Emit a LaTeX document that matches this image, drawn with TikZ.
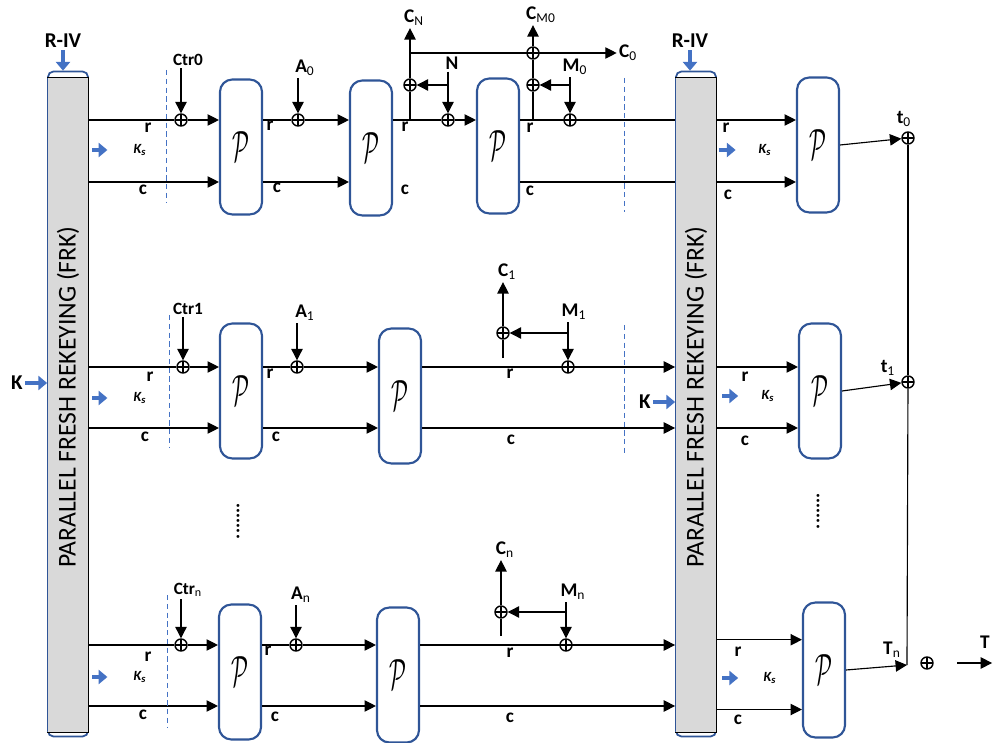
\documentclass[tikz,border=0pt]{standalone}
\usepackage{fontspec}
\setmainfont{Carlito}
\usetikzlibrary{arrows.meta, positioning}
\definecolor{boxblue}{RGB}{47,85,151}
\definecolor{keyblue}{RGB}{68,114,196}
\definecolor{frkgray}{RGB}{217,217,217}
\newcommand{\pglyph}{\scalebox{0.5}[1]{$\mathcal{P}$}}

\begin{document}
\begin{tikzpicture}[
    x=0.02cm, y=-0.02cm,
    line width=0.65pt,
    frk/.style={rectangle, draw=boxblue, fill=white, rounded corners=3pt, line width=1pt, minimum width=0.8cm, minimum height=13.3cm},
    frktext/.style={rotate=90, font=\fontsize{14.6}{15}\selectfont},
    perm/.style={rectangle, draw=boxblue, rounded corners=7pt, line width=1.2pt, minimum width=0.84cm, minimum height=2.7cm, font=\fontsize{27}{27}\selectfont},
    xor/.style={circle, draw, inner sep=0pt, minimum size=0.24cm, line width=0.8pt,
        path picture={\draw[line width=0.8pt] (path picture bounding box.north) -- (path picture bounding box.south)
            (path picture bounding box.west) -- (path picture bounding box.east);}},
    big/.style={font=\bfseries\fontsize{12}{13}\selectfont, inner sep=1pt},
    lbl/.style={font=\bfseries\fontsize{11}{12}\selectfont, inner sep=1pt},
    small/.style={font=\bfseries\fontsize{9.8}{10}\selectfont, inner sep=1pt},
    wire/.style={font=\bfseries\fontsize{11}{12}\selectfont, inner sep=0pt},
    ks/.style={font=\bfseries\itshape\fontsize{8}{8}\selectfont, inner sep=0pt},
    dots/.style={rotate=90, font=\bfseries\fontsize{11}{11}\selectfont, inner sep=0pt},
    arrow/.style={-{Triangle[length=6.5pt, width=6.5pt]}},
    keyarrow/.style={draw=keyblue, line width=2.3pt, -{Triangle[length=5pt, width=8pt]}},
    cutline/.style={draw=keyblue, densely dashed, line width=0.5pt}
]
\useasboundingbox (0,0) rectangle (995,743);

% rail heights
\coordinate (rr0) at (0,120);
\coordinate (cc0) at (0,182);
\coordinate (rr1) at (0,367);
\coordinate (cc1) at (0,428);
\coordinate (rrn) at (0,645);
\coordinate (ccn) at (0,706);

% rekeying blocks
\node[frk] (frkL) at (68,404) {};
\fill[frkgray] ([shift={(0.5pt,-0.14cm)}]frkL.north west) rectangle ([yshift=0.1cm]frkL.south east);
\draw ([yshift=-0.14cm]frkL.north west) -- ([yshift=-0.14cm]frkL.north east) -- ([yshift=0.1cm]frkL.south east) -- ([yshift=0.1cm]frkL.south west);
\node[frktext] (frkLt) at (68,397) {PARALLEL FRESH REKEYING (FRK)};

\node[frk] (frkR) at (696,404) {};
\fill[frkgray] ([shift={(0.5pt,-0.14cm)}]frkR.north west) rectangle ([yshift=0.1cm]frkR.south east);
\draw ([yshift=-0.14cm]frkR.north west) -- ([yshift=-0.14cm]frkR.north east) -- ([yshift=0.1cm]frkR.south east) -- ([yshift=0.1cm]frkR.south west);
\node[frktext] (frkRt) at (696,397) {PARALLEL FRESH REKEYING (FRK)};

\node[big] (rivL) at (63,41) {R-IV};
\node[big] (rivR) at (690,41) {R-IV};
\node[big] (kL) at (17,383) {K};
\node[big] (kR) at (645,402) {K};
\draw[keyarrow] (rivL.south) -- (rivL.south |- frkL.north);
\draw[keyarrow] (rivR.south) -- (rivR.south |- frkR.north);
\draw[keyarrow] (kL.east) -- (kL -| frkL.west);
\draw[keyarrow] (kR.east) -- (kR -| frkR.west);

% ---- first block
\node[xor] (x0ctr) at (181,120) {};
\node[small] (ctr0) at (188,60) {Ctr0};
\node[perm] (pa0) at (241,147) {\pglyph};
\node[xor] (x0a) at (298,120) {};
\node[lbl] (a0) at (305,68) {A\textsubscript{\mdseries 0}};
\node[perm] (pb0) at (371,148) {\pglyph};
\node[xor] (x0cn) at (410,85) {};
\node[lbl] (cn) at (414,18) {C\textsubscript{\mdseries N}};
\node[xor] (x0n) at (448,120) {};
\node[lbl] (n0) at (452,63) {N};
\node[perm] (pc0) at (498,146) {\pglyph};
\node[xor] (x0cm) at (533,53) {};
\node[xor] (x0m) at (533,85) {};
\node[lbl] (cm0) at (541,15) {C\textsubscript{\mdseries M0}};
\node[lbl] (c0out) at (628,53) {C\textsubscript{\mdseries 0}};
\node[xor] (x0mm) at (570,120) {};
\node[lbl] (m0) at (575,67) {M\textsubscript{\mdseries 0}};
\node[perm] (pt0) at (818,145) {\pglyph};
\node[xor] (xt0) at (908,138) {};
\node[lbl] (t0) at (904,119) {t\textsubscript{\mdseries 0}};

\node[wire] (r0a) at (148,128) {r};
\node[wire] (c0a) at (143,190) {c};
\node[ks] (ks0a) at (140,150) {K\textsubscript{s}};
\node[wire] (r0b) at (270,126) {r};
\node[wire] (c0b) at (277,188) {c};
\node[wire] (r0c) at (405,127) {r};
\node[wire] (c0c) at (405,190) {c};
\node[wire] (r0d) at (530,128) {r};
\node[wire] (c0d) at (530,191) {c};
\node[wire] (r0e) at (726,128) {r};
\node[wire] (c0e) at (728,195) {c};
\node[ks] (ks0e) at (765,150) {K\textsubscript{s}};

\draw (frkL.east |- rr0) -- (x0ctr);
\draw[arrow] (x0ctr) -- (pa0.west |- rr0);
\draw[arrow] (x0ctr |- ctr0.south) -- (x0ctr);
\draw[arrow] (frkL.east |- cc0) -- (pa0.west |- cc0);
\draw (pa0.east |- rr0) -- (x0a);
\draw[arrow] (x0a) -- (pb0.west |- rr0);
\draw[arrow] (x0a |- a0.south) -- (x0a);
\draw[arrow] (pa0.east |- cc0) -- (pb0.west |- cc0);
\draw (pb0.east |- rr0) -- (x0n);
\draw[arrow] (x0n) -- (pc0.west |- rr0);
\draw (x0cn |- rr0) -- (x0cn);
\draw[arrow] (x0cn) -- (x0cn |- cn.south);
\draw[arrow] (x0n |- n0.south) -- (x0n);
\draw[arrow] (x0n |- x0cn) -- (x0cn);
\draw[arrow] (x0cn |- x0cm) -- (c0out.west);
\draw (pc0.east |- rr0) -- (frkR.west |- rr0);
\draw (x0m |- rr0) -- (x0m);
\draw (x0m) -- (x0cm);
\draw[arrow] (x0cm) -- (x0cm |- cm0.south);
\draw[arrow] (x0mm |- m0.south) -- (x0mm);
\draw[arrow] (x0mm |- x0m) -- (x0m);
\draw (pc0.east |- cc0) -- (frkR.west |- cc0);
\draw[arrow] (frkR.east |- rr0) -- (pt0.west |- rr0);
\draw[arrow] (frkR.east |- cc0) -- (pt0.west |- cc0);
\draw[arrow] (pt0.east) -- (xt0);
\draw[keyarrow] ([xshift=2pt]frkL.east |- ks0a) -- ++(15,0);
\draw[keyarrow] ([xshift=1pt]frkR.east |- ks0e) -- ++(17,0);
\draw[cutline] (166,70) -- (166,202);
\draw[cutline] (624,78) -- (624,212);

% ---- second block
\node[xor] (x1ctr) at (183,367) {};
\node[small] (ctr1) at (188,309) {Ctr1};
\node[perm] (pa1) at (241,391) {\pglyph};
\node[xor] (x1a) at (297,367) {};
\node[lbl] (a1) at (305,313) {A\textsubscript{\mdseries 1}};
\node[perm] (pb1) at (400,396) {\pglyph};
\node[xor] (x1c) at (503,333) {};
\node[lbl] (c1out) at (507,272) {C\textsubscript{\mdseries 1}};
\node[xor] (x1m) at (568,367) {};
\node[lbl] (m1) at (574,312) {M\textsubscript{\mdseries 1}};
\node[perm] (pt1) at (820,391) {\pglyph};
\node[xor] (xt1) at (908,382) {};
\node[lbl] (t1) at (888,368) {t\textsubscript{\mdseries 1}};

\node[wire] (r1a) at (150,377) {r};
\node[wire] (c1a) at (145,437) {c};
\node[ks] (ks1a) at (140,398) {K\textsubscript{s}};
\node[wire] (r1b) at (270,374) {r};
\node[wire] (c1b) at (276,437) {c};
\node[wire] (r1c) at (510,374) {r};
\node[wire] (c1c) at (511,440) {c};
\node[wire] (r1e) at (745,377) {r};
\node[wire] (c1e) at (745,441) {c};
\node[ks] (ks1e) at (768,396) {K\textsubscript{s}};

\draw (frkL.east |- rr1) -- (x1ctr);
\draw[arrow] (x1ctr) -- (pa1.west |- rr1);
\draw[arrow] (x1ctr |- ctr1.south) -- (x1ctr);
\draw[arrow] (frkL.east |- cc1) -- (pa1.west |- cc1);
\draw (pa1.east |- rr1) -- (x1a);
\draw[arrow] (x1a) -- (pb1.west |- rr1);
\draw[arrow] (x1a |- a1.south) -- (x1a);
\draw[arrow] (pa1.east |- cc1) -- (pb1.west |- cc1);
\draw[arrow] (pb1.east |- rr1) -- (frkR.west |- rr1);
\draw[arrow] (x1m |- m1.south) -- (x1m);
\draw[arrow] (x1m |- x1c) -- (x1c);
\draw ([yshift=5pt]x1c |- rr1) -- (x1c);
\draw[arrow] (x1c) -- (x1c |- c1out.south);
\draw[arrow] (pb1.east |- cc1) -- (frkR.west |- cc1);
\draw[arrow] (frkR.east |- rr1) -- (pt1.west |- rr1);
\draw[arrow] (frkR.east |- cc1) -- (pt1.west |- cc1);
\draw[arrow] (pt1.east) -- (xt1);
\draw (xt0) -- (xt1);
\draw[keyarrow] ([xshift=2pt]frkL.east |- ks1a) -- ++(15,0);
\draw[keyarrow] ([xshift=3pt]frkR.east |- ks1e) -- ++(16,0);
\draw[cutline] (169,315) -- (169,448);
\draw[cutline] (624,325) -- (624,455);

\node[dots] (dotsL) at (238,521) {.......};
\node[dots] (dotsR) at (818,511) {.......};

% ---- last block
\node[xor] (xnctr) at (181,645) {};
\node[small] (ctrn) at (188,590) {Ctr\textsubscript{\mdseries n}};
\node[perm] (pan) at (240,672) {\pglyph};
\node[xor] (xna) at (296,645) {};
\node[lbl] (an) at (301,595) {A\textsubscript{\mdseries n}};
\node[perm] (pbn) at (398,675) {\pglyph};
\node[xor] (xnc) at (501,612) {};
\node[lbl] (cnout) at (505,550) {C\textsubscript{\mdseries n}};
\node[xor] (xnm) at (566,645) {};
\node[lbl] (mn) at (573,592) {M\textsubscript{\mdseries n}};
\node[perm] (ptn) at (824,670) {\pglyph};
\coordinate (tnend) at (907,665);
\node[lbl] (tn) at (892,650) {T\textsubscript{\mdseries n}};
\node[xor] (xfin) at (927,663) {};
\coordinate (tstart) at (957,663);
\node[lbl] (tout) at (985,642) {T};

\node[wire] (rna) at (148,657) {r};
\node[wire] (cna) at (143,715) {c};
\node[ks] (ksna) at (140,677) {K\textsubscript{s}};
\node[wire] (rnb) at (268,651) {r};
\node[wire] (cnb) at (275,717) {c};
\node[wire] (rnc) at (510,653) {r};
\node[wire] (cnc) at (510,718) {c};
\node[wire] (rne) at (738,652) {r};
\node[wire] (cne) at (738,720) {c};
\node[ks] (ksne) at (770,678) {K\textsubscript{s}};

\draw (frkL.east |- rrn) -- (xnctr);
\draw[arrow] (xnctr) -- (pan.west |- rrn);
\draw[arrow] (xnctr |- ctrn.south) -- (xnctr);
\draw[arrow] (frkL.east |- ccn) -- (pan.west |- ccn);
\draw (pan.east |- rrn) -- (xna);
\draw[arrow] (xna) -- (pbn.west |- rrn);
\draw[arrow] (xna |- an.south) -- (xna);
\draw[arrow] (pan.east |- ccn) -- (pbn.west |- ccn);
\draw[arrow] (pbn.east |- rrn) -- (frkR.west |- rrn);
\draw[arrow] (xnm |- mn.south) -- (xnm);
\draw[arrow] (xnm |- xnc) -- (xnc);
\draw ([yshift=5pt]xnc |- rrn) -- (xnc);
\draw[arrow] (xnc) -- (xnc |- cnout.south);
\draw[arrow] (pbn.east |- ccn) -- (frkR.west |- ccn);
\draw[arrow] ([yshift=3pt]frkR.east |- rrn) -- ([yshift=3pt]ptn.west |- rrn);
\draw[arrow] ([yshift=-2pt]frkR.east |- ccn) -- ([yshift=-2pt]ptn.west |- ccn);
\draw[arrow] (ptn.east) -- (tnend);
\draw (xt1) -- (tnend);
\draw[arrow] (tstart) -- (tout.east |- tstart);
\draw[keyarrow] ([xshift=2pt]frkL.east |- ksna) -- ++(15,0);
\draw[keyarrow] ([xshift=3pt]frkR.east |- ksne) -- ++(16,0);
\draw[cutline] (167,595) -- (167,727);

\end{tikzpicture}
\end{document}
